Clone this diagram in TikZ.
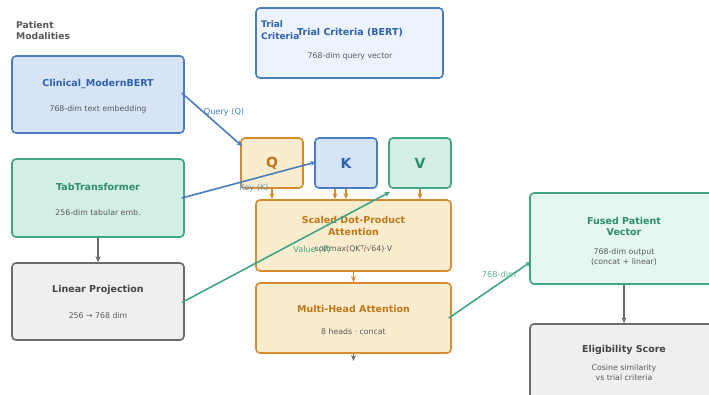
\documentclass[tikz,border=0pt]{standalone}
\usepackage{fontspec}
\setmainfont{DejaVu Sans}
\usetikzlibrary{arrows.meta}

\definecolor{bluedraw}{HTML}{4A7CC0}
\definecolor{bluefill}{HTML}{D6E4F6}
\definecolor{bluepale}{HTML}{ECF3FC}
\definecolor{bluetext}{HTML}{2F62AC}
\definecolor{greendraw}{HTML}{40A585}
\definecolor{greenfill}{HTML}{D3EEE5}
\definecolor{greenpale}{HTML}{E5F6F0}
\definecolor{greentext}{HTML}{2E8E6C}
\definecolor{orangedraw}{HTML}{D68C2E}
\definecolor{orangefill}{HTML}{FAEDCF}
\definecolor{orangetext}{HTML}{C27618}
\definecolor{graydraw}{HTML}{6B6B6B}
\definecolor{grayfill}{HTML}{EFEFEF}
\definecolor{graytext}{HTML}{444444}
\definecolor{subgray}{HTML}{5A5A5A}

\tikzset{
  box/.style={draw, rounded corners=4pt, line width=1.6pt, inner sep=0pt},
  ttl/.style={font=\fontsize{9.5}{11.5}\selectfont\bfseries, align=center, inner sep=0pt},
  sub/.style={font=\fontsize{7.8}{10}\selectfont, text=subgray, align=center, inner sep=0pt},
  lbl/.style={font=\fontsize{8.2}{10}\selectfont, inner sep=0pt},
  big/.style={font=\fontsize{14}{16}\selectfont\bfseries, inner sep=0pt},
  conn/.style={line width=1.6pt, -{Stealth[length=6pt,width=5pt]}}
}

\begin{document}
\begin{tikzpicture}[x=1pt,y=-1pt]
\useasboundingbox (0,0) rectangle (709,394);
\clip (0,0) rectangle (709,394);

% group headings
\node[font=\fontsize{9.2}{11}\selectfont\bfseries, text=graytext!90, align=left, anchor=west, inner sep=0pt]
  (pm) at (16,30.5) {Patient\\Modalities};

% patient encoders
\node[box, draw=bluedraw, fill=bluefill, minimum width=172pt, minimum height=77pt] (clin) at (98,94.5) {};
\node[ttl, text=bluetext] (clint) at (98,84) {Clinical\_ModernBERT};
\node[sub] (clins) at (98,109) {768-dim text embedding};

\node[box, draw=greendraw, fill=greenfill, minimum width=172pt, minimum height=78pt] (tab) at (98,198) {};
\node[ttl, text=greentext] (tabt) at (98,187) {TabTransformer};
\node[sub] (tabs) at (98,213) {256-dim tabular emb.};

\node[box, draw=graydraw, fill=grayfill, minimum width=172pt, minimum height=77pt] (lin) at (98,301.5) {};
\node[ttl, text=graytext] (lint) at (98,290) {Linear Projection};
\node[sub] (lins) at (98,316) {256 → 768 dim};

% trial criteria encoder
\node[box, draw=bluedraw, fill=bluepale, minimum width=187pt, minimum height=70pt] (trial) at (349.5,43) {};
\node[ttl, text=bluetext] (trialt) at (350,33) {Trial Criteria (BERT)};
\node[sub] (trials) at (350,56) {768-dim query vector};
\node[font=\fontsize{9}{11.5}\selectfont\bfseries, text=bluetext, align=left, anchor=west, inner sep=0pt]
  (tc) at (261,30) {Trial\\Criteria};

% Q, K, V
\node[box, draw=orangedraw, fill=orangefill, minimum width=62pt, minimum height=50pt] (q) at (272,163) {};
\node[big, text=orangetext] (qt) at (272,163) {Q};
\node[box, draw=bluedraw, fill=bluefill, minimum width=62pt, minimum height=50pt] (k) at (346,163) {};
\node[big, text=bluetext] (kt) at (346,163) {K};
\node[box, draw=greendraw, fill=greenfill, minimum width=62pt, minimum height=50pt] (v) at (420,163) {};
\node[big, text=greentext] (vt) at (420,163) {V};

% attention blocks
\node[box, draw=orangedraw, fill=orangefill, minimum width=195pt, minimum height=71pt] (sdpa) at (353.5,235.5) {};
\node[ttl, text=orangetext] (sdpat) at (353.5,226) {Scaled Dot-Product\\Attention};
\node[sub] (sdpas) at (353.5,249) {softmax(QK\raisebox{0.55ex}{\fontsize{5.5}{6}\selectfont T}/√64)·V};

\node[box, draw=orangedraw, fill=orangefill, minimum width=195pt, minimum height=70pt] (mha) at (353.5,318) {};
\node[ttl, text=orangetext] (mhat) at (353.5,308.5) {Multi-Head Attention};
\node[sub] (mhas) at (353.5,332) {8 heads · concat};
\coordinate (mhaout) at (353.5,361);

% outputs
\node[box, draw=greendraw, fill=greenpale, minimum width=188pt, minimum height=91pt] (fused) at (624,238.5) {};
\node[ttl, text=greentext] (fusedt) at (624,226.5) {Fused Patient\\Vector};
\node[sub] (fuseds) at (624,257) {768-dim output\\(concat + linear)};

\node[box, draw=graydraw, fill=grayfill, minimum width=188pt, minimum height=80pt] (elig) at (624,364) {};
\node[ttl, text=graytext] (eligt) at (624,350) {Eligibility Score};
\node[sub] (eligs) at (624,373) {Cosine similarity\\vs trial criteria};

% connectors
\draw[conn, bluedraw] ([xshift=-3pt,yshift=1.5pt]clin.east) -- ([xshift=2pt,yshift=-9pt]q.north west);
\node[lbl, text=bluedraw] (ql) at (224,112) {Query (Q)};

\draw[conn, bluedraw] ([xshift=-3pt]tab.east) -- ([xshift=2pt,yshift=1pt]k.west);
\node[lbl, text=bluedraw!85] (kl) at (254,188) {Key (K)};

\draw[conn, greendraw] ([xshift=-3pt,yshift=-1pt]lin.east) -- ([xshift=2pt,yshift=-3pt]v.south west);
\node[lbl, text=greendraw] (vl) at (312,249.5) {Value (V)};

\draw[conn, graydraw] (tab.south) -- (lin.north);

\draw[conn, orangedraw] (q.south) -- (q.south |- sdpa.north);
\draw[conn, orangedraw] ([xshift=-11pt]k.south) -- ([xshift=-11pt]k.south |- sdpa.north);
\draw[conn, orangedraw] (k.south) -- (k.south |- sdpa.north);
\draw[conn, orangedraw] (v.south) -- (v.south |- sdpa.north);
\draw[conn, orangedraw] (sdpa.south) -- (mha.north);
\draw[conn, graydraw] (mha.south) -- (mhaout);

\draw[conn, greendraw] ([xshift=-3pt]mha.east) -- ([xshift=2pt,yshift=-23pt]fused.west);
\node[lbl, text=greendraw!85] (fl) at (499,274) {768-dim};

\draw[conn, graydraw] (fused.south) -- (elig.north);
\end{tikzpicture}
\end{document}
